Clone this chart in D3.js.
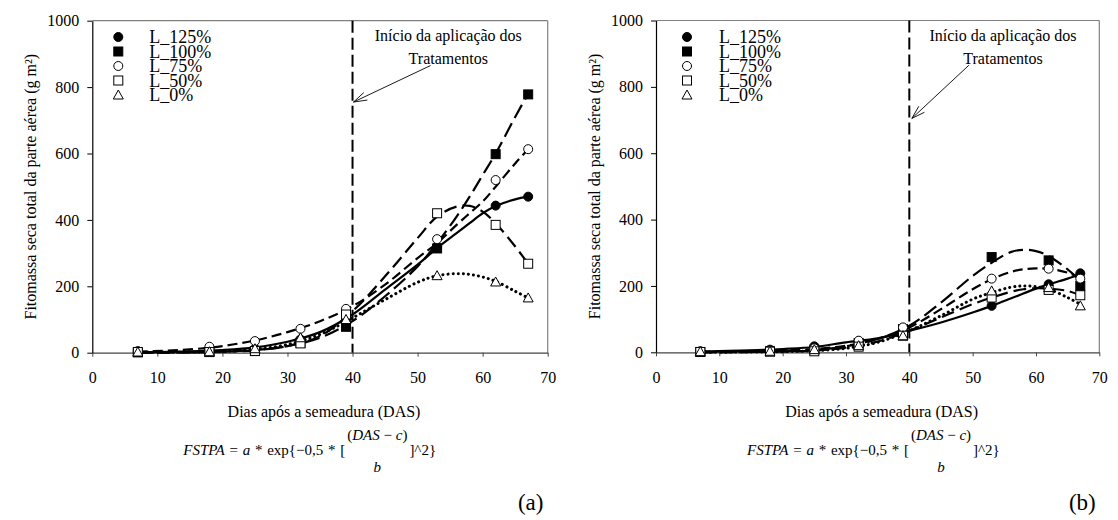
<!DOCTYPE html>
<html>
<head>
<meta charset="utf-8">
<script src="https://cdn.jsdelivr.net/npm/d3@7"></script>
<style>
  body { margin: 0; background: #fff; }
  svg text { font-family: "Liberation Serif", "DejaVu Serif", serif; fill: #000; }
</style>
</head>
<body>
<svg id="chart"></svg>
<script>
var svgWidth = 1118;
var svgHeight = 520;
var serif = "'Liberation Serif', 'DejaVu Serif', serif";

// sampling days and series names
var days = [7, 18, 25, 32, 39, 53, 62, 67];
var seriesNames = ["L_125%", "L_100%", "L_75%", "L_50%", "L_0%"];
var xTicks = [0, 10, 20, 30, 40, 50, 60, 70];
var yTicks = [0, 200, 400, 600, 800, 1000];

// observed points, panel (a)
var obsA125 = [2, 5, 12, 40, 100, 320, 443, 470];
var obsA100 = [1, 2, 5, 30, 78, 314, 598, 778];
var obsA75 = [5, 18, 35, 72, 132, 342, 520, 613];
var obsA50 = [2, 2, 5, 28, 115, 420, 385, 268];
var obsA0 = [2, 3, 12, 45, 100, 232, 213, 165];

// observed points, panel (b)
var obsB125 = [2, 8, 18, 33, 65, 140, 205, 238];
var obsB100 = [1, 3, 8, 28, 70, 287, 277, 200];
var obsB75 = [3, 5, 12, 35, 75, 222, 252, 222];
var obsB50 = [1, 2, 3, 17, 50, 165, 188, 172];
var obsB0 = [2, 3, 8, 20, 50, 185, 195, 140];

// fitted curves
var curveDays = [7, 15, 20, 25, 30, 35, 40, 45, 50, 53, 56, 58, 60, 62, 65, 67];
var fitA125 = [1, 4, 8, 16, 33, 62, 115, 190, 265, 315, 360, 390, 420, 442, 462, 470];
var fitA100 = [0, 1, 3, 7, 20, 45, 95, 170, 260, 330, 410, 470, 535, 600, 710, 780];
var fitA75 = [3, 10, 20, 37, 62, 95, 140, 205, 285, 330, 385, 420, 455, 500, 570, 613];
var fitA50 = [0, 1, 3, 8, 20, 50, 125, 230, 345, 410, 440, 442, 425, 390, 320, 268];
var fitA0 = [1, 2, 4, 10, 25, 55, 105, 160, 212, 232, 238, 236, 228, 215, 185, 165];

var fitB125 = [2, 6, 10, 16, 30, 42, 65, 90, 120, 140, 162, 177, 192, 205, 222, 235];
var fitB100 = [0, 1, 3, 7, 18, 40, 80, 150, 230, 270, 302, 309, 305, 290, 250, 215];
var fitB75 = [2, 4, 6, 10, 20, 40, 75, 130, 190, 220, 242, 250, 253, 252, 240, 225];
var fitB50 = [0, 1, 2, 5, 14, 32, 65, 105, 145, 165, 182, 190, 193, 192, 185, 172];
var fitB0 = [0, 1, 2, 5, 12, 30, 65, 110, 160, 180, 196, 200, 198, 190, 165, 145];

var markerTypes = ["fcircle", "fsquare", "ocircle", "osquare", "otriangle"];
var dashes = [null, "15,6", "10,5", "13,6", "0.1,5"];

var svg = d3.select("#chart").attr("width", svgWidth).attr("height", svgHeight)
  .attr("font-family", serif);

var panels = [
  { x0: 92.3, x1: 547.7, y0: 20.7, y1: 352.7, label: "(a)",
    obs: [obsA125, obsA100, obsA75, obsA50, obsA0],
    fit: [fitA125, fitA100, fitA75, fitA50, fitA0],
    legMark: 26, legText: 57, annoX: 356, arrowTip: [40.15, 755], arrowTail: [52, 865] },
  { x0: 656, x1: 1099.3, y0: 20.5, y1: 352.3, label: "(b)",
    obs: [obsB125, obsB100, obsB75, obsB50, obsB0],
    fit: [fitB125, fitB100, fitB75, fitB50, fitB0],
    legMark: 31, legText: 63, annoX: 347, arrowTip: [40.4, 705], arrowTail: [49.4, 865] }
];

function drawMarker(g, type, cx, cy) {
  if (type === "fcircle" || type === "ocircle") {
    g.append("circle").attr("cx", cx).attr("cy", cy).attr("r", 4.5)
      .attr("fill", type === "fcircle" ? "#000" : "#fff")
      .attr("stroke", "#000").attr("stroke-width", 1);
  } else if (type === "fsquare" || type === "osquare") {
    g.append("rect").attr("x", cx - 4.5).attr("y", cy - 4.5).attr("width", 9).attr("height", 9)
      .attr("fill", type === "fsquare" ? "#000" : "#fff")
      .attr("stroke", "#000").attr("stroke-width", 1);
  } else {
    g.append("path").attr("d", "M" + cx + "," + (cy - 5) + "L" + (cx + 5) + "," + (cy + 4) + "L" + (cx - 5) + "," + (cy + 4) + "Z")
      .attr("fill", "#fff").attr("stroke", "#000").attr("stroke-width", 1);
  }
}

function txt(g) {
  return g.append("text").attr("font-family", serif);
}

panels.forEach(function(p) {
  var x = d3.scaleLinear().domain([0, 70]).range([p.x0, p.x1]);
  var y = d3.scaleLinear().domain([0, 1000]).range([p.y1, p.y0]);
  var g = svg.append("g");

  // frame top & right
  g.append("line").attr("x1", p.x0).attr("x2", p.x1).attr("y1", p.y0).attr("y2", p.y0)
    .attr("stroke", "#808080").attr("stroke-width", 1.2);
  g.append("line").attr("x1", p.x1).attr("x2", p.x1).attr("y1", p.y0).attr("y2", p.y1)
    .attr("stroke", "#808080").attr("stroke-width", 1.2);

  // axes
  var xAxis = g.append("g").attr("transform", "translate(0," + p.y1 + ")")
    .call(d3.axisBottom(x).tickValues(xTicks).tickFormat(d3.format("d"))
      .tickSize(4).tickSizeOuter(0).tickPadding(15));
  xAxis.attr("font-family", serif).attr("font-size", 16);
  xAxis.select(".domain").attr("stroke", "#444").attr("stroke-width", 1.2);
  xAxis.selectAll(".tick line").attr("stroke", "#444");

  var yAxis = g.append("g").attr("transform", "translate(" + p.x0 + ",0)")
    .call(d3.axisLeft(y).tickValues(yTicks).tickFormat(d3.format("d"))
      .tickSize(5).tickSizeOuter(0).tickPadding(8));
  yAxis.attr("font-family", serif).attr("font-size", 16);
  yAxis.select(".domain").attr("stroke", "#000").attr("stroke-width", 1.2);

  // axis titles
  txt(g).attr("transform", "translate(" + (p.x0 - 62) + "," + ((p.y0 + p.y1) / 2) + ") rotate(-90)")
    .attr("text-anchor", "middle").attr("dominant-baseline", "central")
    .attr("font-size", 16)
    .text("Fitomassa seca total da parte aérea (g m²)");

  txt(g).attr("x", (p.x0 + p.x1) / 2 + 4).attr("y", 417)
    .attr("text-anchor", "middle").attr("font-size", 16)
    .text("Dias após a semeadura (DAS)");

  // formula
  var f = g.append("g").attr("font-size", 15);
  var ft = txt(f).attr("x", p.x0 + 91).attr("y", 455).attr("word-spacing", 1);
  ft.append("tspan").attr("font-style", "italic").text("FSTPA");
  ft.append("tspan").text(" = ");
  ft.append("tspan").attr("font-style", "italic").text("a");
  ft.append("tspan").text(" * exp{\u22120,5 * [");
  var leftEnd = p.x0 + 91 + ft.node().getComputedTextLength();
  var num = txt(f).attr("x", leftEnd + 2).attr("y", 440);
  num.append("tspan").text("(");
  num.append("tspan").attr("font-style", "italic").text("DAS");
  num.append("tspan").text(" \u2212 ");
  num.append("tspan").attr("font-style", "italic").text("c");
  num.append("tspan").text(")");
  var numW = num.node().getComputedTextLength();
  txt(f).attr("x", leftEnd + 2 + numW / 2).attr("y", 472).attr("text-anchor", "middle")
    .attr("font-style", "italic").text("b");
  txt(f).attr("x", leftEnd + 4 + numW).attr("y", 455).text("]^2}");

  // panel letter
  txt(g).attr("x", p.x1 - 17).attr("y", 510).attr("text-anchor", "middle")
    .attr("font-size", 23).text(p.label);

  // vertical line at 40 DAS
  g.append("line").attr("x1", x(40)).attr("x2", x(40)).attr("y1", p.y0).attr("y2", p.y1)
    .attr("stroke", "#000").attr("stroke-width", 2).attr("stroke-dasharray", "12,5");

  // annotation
  txt(g).attr("x", p.x0 + p.annoX).attr("y", 41).attr("text-anchor", "middle")
    .attr("font-size", 16).text("Início da aplicação dos");
  txt(g).attr("x", p.x0 + p.annoX).attr("y", 64).attr("text-anchor", "middle")
    .attr("font-size", 16).text("Tratamentos");
  var tx = x(p.arrowTip[0]), ty = y(p.arrowTip[1]);
  var sx = x(p.arrowTail[0]), sy = y(p.arrowTail[1]);
  g.append("line").attr("x1", sx).attr("y1", sy).attr("x2", tx).attr("y2", ty)
    .attr("stroke", "#000").attr("stroke-width", 0.9);
  var ang = Math.atan2(sy - ty, sx - tx);
  [-0.3, 0.3].forEach(function(d) {
    g.append("line").attr("x1", tx).attr("y1", ty)
      .attr("x2", tx + 14 * Math.cos(ang + d)).attr("y2", ty + 14 * Math.sin(ang + d))
      .attr("stroke", "#000").attr("stroke-width", 0.9);
  });

  // fitted curves
  var line = d3.line()
    .x(function(d) { return x(d[0]); })
    .y(function(d) { return y(d[1]); })
    .curve(d3.curveCatmullRom);
  p.fit.forEach(function(vals, i) {
    var pts = curveDays.map(function(d, j) { return [d, vals[j]]; });
    g.append("path").attr("d", line(pts)).attr("fill", "none")
      .attr("stroke", "#000").attr("stroke-width", i === 4 ? 3 : 2.2)
      .attr("stroke-linecap", i === 4 ? "round" : "butt")
      .attr("stroke-dasharray", dashes[i]);
  });

  // observed points
  p.obs.forEach(function(vals, i) {
    var mg = g.append("g");
    days.forEach(function(d, j) { drawMarker(mg, markerTypes[i], x(d), y(vals[j])); });
  });

  // legend (tight line spacing as in the original)
  var legY = [37, 51.5, 66, 80.5, 95];
  seriesNames.forEach(function(name, i) {
    drawMarker(g, markerTypes[i], p.x0 + p.legMark, legY[i]);
    txt(g).attr("x", p.x0 + p.legText).attr("y", legY[i] + 6)
      .attr("font-size", 18).text(name);
  });
});
</script>
</body>
</html>
